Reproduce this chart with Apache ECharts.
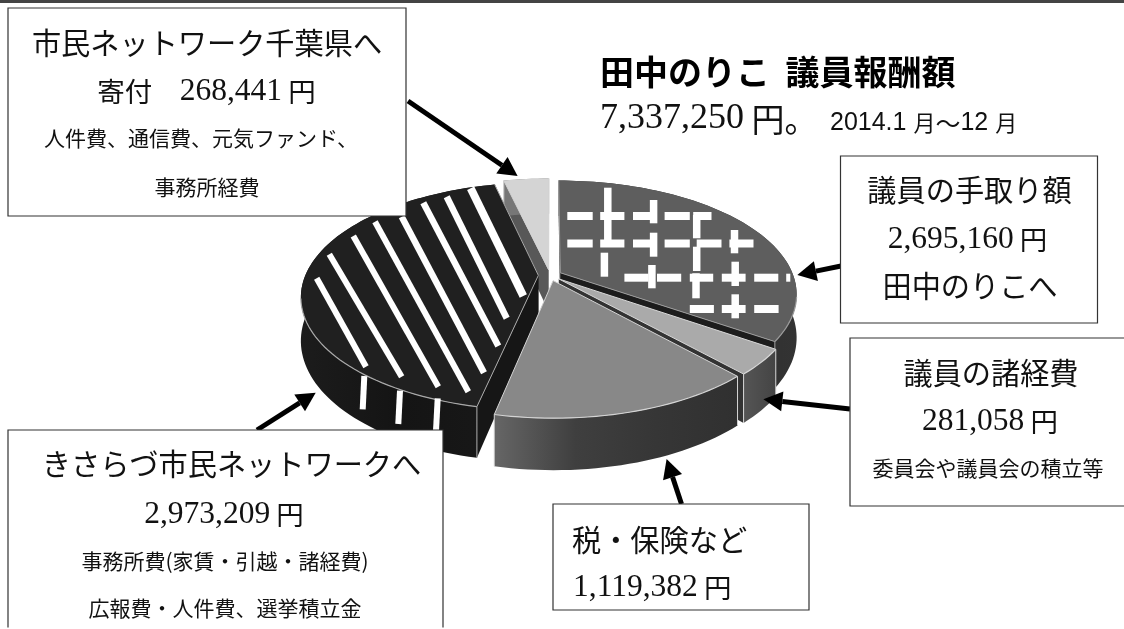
<!DOCTYPE html>
<html>
<head>
<meta charset="utf-8">
<style>html,body{margin:0;background:#fff}#main{width:1124px;height:629px}</style>
<script src="https://cdn.jsdelivr.net/npm/echarts@6/dist/echarts.min.js"></script>
</head>
<body>
<div id="main"></div>
<script>
// slices run clockwise from 12 o'clock
const sliceNames = ['議員の手取り額', '議員の諸経費', '税・保険など', 'きさらづ市民ネットワークへ', '市民ネットワーク千葉県へ'];
const sliceValues = [2695160, 281058, 1119382, 2973209, 268441];
const drawOrder = [4, 0, 3, 1, 2];

const total = sliceValues.reduce((a, b) => a + b, 0);
const fmt = v => v.toLocaleString('en-US');
const SANS = '"Noto Sans CJK JP"', SERIF = '"Liberation Serif"';

// fake 3D projection of the pie disc
const CX = 550, CY = 275.3, RX = 233, RY = 110, PERSP = 0.184, DEPTH = 42, EXPLODE = 0.05;
const SKEW = 9.3 * Math.PI / 180; // the 3D rotation squeezes the right hand angles a bit
const warp = t => t - SKEW * (1 - Math.cos(t)) / 2;

function project(t, r, o, depth) {
  const u = r * Math.sin(t) + o[0], v = -r * Math.cos(t) + o[1];
  const s = 1 / (1 - PERSP * v);
  return [CX + RX * u * s, CY + RY * v * s + (depth || 0) * s];
}

const hgrad = (stops) => ({
  type: 'linear', x: 0, y: 0, x2: 1, y2: 0,
  colorStops: stops.map((c, i) => ({ offset: i / (stops.length - 1), color: c }))
});

const sliceLook = [
  { top: '#5e5e5e', edge: '#9a9a9a', side: hgrad(['#242424', '#333333']), wall: '#1c1c1c' },
  { top: '#aaaaaa', edge: '#d8d8d8', side: hgrad(['#555555', '#444444']), wall: '#333333' },
  { top: '#888888', edge: '#d4d4d4', side: hgrad(['#666666', '#3f3f3f', '#363636', '#303030']), wall: '#444444' },
  { top: '#202020', edge: '#a8a8a8', side: hgrad(['#1c1c1c', '#141414', '#181818']), wall: '#161616' },
  { top: '#d4d4d4', edge: '#d4d4d4', side: hgrad(['#777777', '#777777']), wall: '#585858' }
];

function renderSlice(params, api) {
  const i = api.value(0);
  let before = 0;
  for (let k = 0; k < i; k++) before += sliceValues[k];
  const a0 = before / total * Math.PI * 2;
  const a1 = (before + sliceValues[i]) / total * Math.PI * 2;
  const t0 = warp(a0), t1 = warp(a1), mid = (t0 + t1) / 2;
  const off = [Math.sin(mid) * EXPLODE, -Math.cos(mid) * EXPLODE];

  const topArc = [], botArc = [], frontArc = [];
  const n = Math.max(4, Math.ceil((t1 - t0) / 0.03));
  for (let k = 0; k <= n; k++) {
    const t = t0 + (t1 - t0) * k / n;
    topArc.push(project(t, 1, off));
    botArc.push(project(t, 1, off, DEPTH));
    if (Math.cos(t) < -0.2) frontArc.push(topArc[k]); // only the near rim catches the light
  }
  const tip = project(0, 0, off), tipB = project(0, 0, off, DEPTH);
  const look = sliceLook[i];
  const z2 = params.dataIndex;
  const poly = (pts, fill) => ({ type: 'polygon', z2, shape: { points: pts }, style: { fill: fill } });
  const edge = (pts, w) => ({ type: 'polyline', z2, shape: { points: pts }, style: { fill: null, stroke: look.edge, lineWidth: w } });
  return {
    type: 'group',
    children: [
      poly([tip, topArc[0], botArc[0], tipB], look.wall),
      poly([tip, topArc[n], botArc[n], tipB], look.wall),
      poly(topArc.concat(botArc.slice().reverse()), look.side),
      edge([topArc[0], botArc[0]], 1),
      edge([topArc[n], botArc[n]], 1),
      poly([tip].concat(topArc), look.top),
      edge([topArc[0], tip, topArc[n]], 1),
      edge(frontArc, 1.2)
    ]
  };
}

// white texture painted on the two big slices
const stripeBars = [
  [316.7, 278.3, 366, 366.7, 6], [329.3, 254.3, 401.7, 376.7, 6], [353.3, 236, 438.3, 386.7, 6],
  [375, 221.7, 468.3, 391.7, 6], [401.7, 216.7, 484, 372.7, 6.5], [423.3, 202.7, 498.3, 346, 6.5],
  [446.7, 196.7, 506.7, 318.3, 6.5], [470.7, 188.3, 523.3, 296, 8],
  [364.3, 376, 362.7, 409.3, 6], [400, 390.7, 398.3, 424, 6], [437.7, 398.3, 436, 431, 6]
];
const crossRows = [
  [216, [[567.3, 592.7], [600.2, 624.4], [633, 657], [664.6, 689.8], [693.2, 711.5]]],
  [243.5, [[567.3, 592.7], [600.2, 624.4], [633, 657], [664.6, 689.8], [696.7, 721.5], [729.4, 753.5]]],
  [277.7, [[624.4, 648.5], [657, 681.2], [689.8, 713.2], [721.8, 745.6], [754.2, 778.3], [786.2, 790.3]]],
  [309, [[689.8, 713.9], [721.8, 745.6], [754.2, 778.6]]]
];
const crossCols = [
  [607.8, 187.7, 213.3], [607.8, 218.3, 240], [653.6, 200, 223.3], [653.6, 232.7, 256.7],
  [696.7, 215, 238.3], [696.7, 246.7, 271], [734.5, 230, 253.3], [604.4, 252.7, 276.7],
  [651.9, 265, 288.3], [696, 273.3, 298.3], [735.2, 261.7, 286], [735.2, 294.3, 318.3]
];

const graphics = [];
const whiteLine = (x1, y1, x2, y2, w) => graphics.push({
  type: 'line', z: 5, shape: { x1, y1, x2, y2 }, style: { stroke: '#fff', lineWidth: w }
});
stripeBars.forEach(b => whiteLine(b[0], b[1], b[2], b[3], b[4]));
crossRows.forEach(r => r[1].forEach(s => whiteLine(s[0], r[0], s[1], r[0], 8)));
crossCols.forEach(c => whiteLine(c[0], c[1], c[0], c[2], 7.5));

function arrow(x1, y1, x2, y2) {
  const a = Math.atan2(y2 - y1, x2 - x1), L = 19, W = 10;
  const bx = x2 - L * Math.cos(a), by = y2 - L * Math.sin(a);
  graphics.push({ type: 'line', z: 6, shape: { x1, y1, x2: bx, y2: by }, style: { stroke: '#000', lineWidth: 5 } });
  graphics.push({
    type: 'polygon', z: 6,
    shape: { points: [[x2, y2], [bx - W * Math.sin(a), by + W * Math.cos(a)], [bx + W * Math.sin(a), by - W * Math.cos(a)]] },
    style: { fill: '#000' }
  });
}
arrow(408, 101, 517.6, 176);
arrow(841, 266, 797.3, 275);
arrow(850, 409, 763.4, 399.3);
arrow(681.5, 504, 666.6, 459);
arrow(257, 430, 315.7, 392.7);

function box(x, y, w, h) {
  graphics.push({ type: 'rect', z: 8, shape: { x, y, width: w, height: h }, style: { fill: '#fff', stroke: '#333', lineWidth: 1.2 } });
}
function label(x, y, text, align) {
  graphics.push({
    type: 'text', z: 9, x, y,
    style: {
      text, align: align || 'center', verticalAlign: 'middle', fill: '#111',
      rich: {
        h: { fontFamily: SANS, fontSize: 29.2, fill: '#111' },
        u: { fontFamily: SANS, fontSize: 27.5, fill: '#111' },
        n: { fontFamily: SERIF, fontSize: 31.5, fill: '#111' },
        s: { fontFamily: SANS, fontSize: 21, fill: '#111' },
        b: { fontFamily: SANS, fontSize: 34, fontWeight: 'bold', fill: '#000' },
        t: { fontFamily: SERIF, fontSize: 36, fill: '#111' },
        y: { fontFamily: SANS, fontSize: 33, fill: '#111' },
        d: { fontFamily: '"Liberation Sans"', fontSize: 25, fill: '#111' },
        e: { fontFamily: SANS, fontSize: 22, fill: '#111' },
        w: { fontFamily: SANS, fontSize: 25, fill: '#111' }
      }
    }
  });
}
const yen = v => `{n|${fmt(v)}}{u| 円}`;

box(8, 8, 398, 208);
label(207, 43, `{h|${sliceNames[4]}}`);
label(206.5, 92, `{u|寄付　}${yen(sliceValues[4])}`);
label(201, 138, '{s|人件費、通信費、元気ファンド、}');
label(207, 187, '{s|事務所経費}');

box(840.5, 156, 257, 167);
label(969.5, 190, `{h|${sliceNames[0]}}`);
label(967.5, 240, yen(sliceValues[0]));
label(970, 286, '{h|田中のりこへ}');

box(850, 338, 280, 168);
label(991, 373, `{h|${sliceNames[1]}}`);
label(990, 422, yen(sliceValues[1]));
label(988, 468, '{s|委員会や議員会の積立等}');

box(553, 504, 256, 106);
label(572, 540, `{h|${sliceNames[2]}}`, 'left');
label(573, 588, yen(sliceValues[2]), 'left');

box(8, 430, 435, 230);
label(231.5, 464, `{h|${sliceNames[3]}}`);
label(224, 515, yen(sliceValues[3]));
label(225, 561, '{s|事務所費(家賃・引越・諸経費)}');
label(225, 608, '{s|広報費・人件費、選挙積立金}');

label(600, 72, '{b|田中のりこ  議員報酬額}', 'left');
label(600, 119, `{t|${fmt(total)}}{y| 円。}`, 'left');
label(830, 123, '{d|2014.1 }{e|月}{w|〜}{d|12 }{e|月}', 'left');

// dark strip along the top of the page, white sliver at the very bottom
graphics.push({ type: 'rect', z: 9, shape: { x: 0, y: 0, width: 1124, height: 3 }, style: { fill: '#444' } });
graphics.push({ type: 'rect', z: 9, shape: { x: 0, y: 627.5, width: 1124, height: 2 }, style: { fill: '#fff' } });

const chart = echarts.init(document.getElementById('main'), null, { renderer: 'canvas' });
chart.setOption({
  animation: false,
  backgroundColor: '#fff',
  series: [{
    type: 'custom',
    coordinateSystem: 'none',
    silent: true,
    z: 2,
    renderItem: renderSlice,
    data: drawOrder.map(i => [i, sliceValues[i]])
  }],
  graphic: { elements: graphics }
});
</script>
</body>
</html>
